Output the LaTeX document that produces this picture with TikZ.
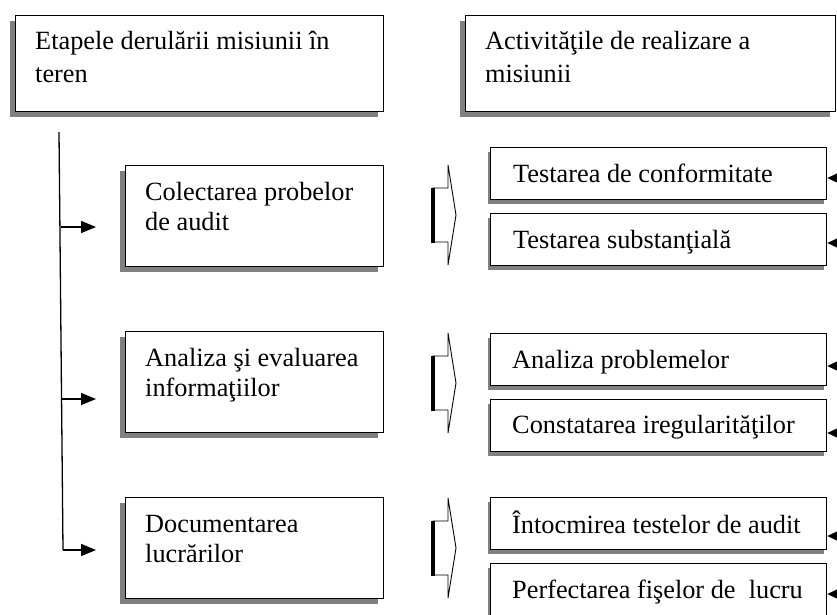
\documentclass[tikz,border=0pt]{standalone}
\usepackage{fontspec}
\setmainfont{Liberation Serif}
\usetikzlibrary{arrows.meta}
\definecolor{shadowgray}{RGB}{128,128,128}
\tikzset{
  bigbox/.style={draw, line width=1.3pt, fill=white, inner sep=0pt, anchor=north west,
    minimum width=#1,
    preaction={fill=shadowgray, draw=none, transform canvas={shift={(-6pt,-5pt)}}}},
  smallbox/.style={draw, line width=1.3pt, fill=white, inner sep=0pt, anchor=north west,
    minimum width=336pt, minimum height=52pt,
    preaction={fill=shadowgray, draw=none, transform canvas={shift={(-3pt,-4pt)}}}},
  txt/.style={inner sep=0pt, anchor=base west, align=left,
    font=\fontsize{26.3}{30}\selectfont},
  toptxt/.style={txt, font=\fontsize{26.3}{33}\selectfont},
  leftarrow/.style={line width=1.5pt, -{Triangle[length=15pt,width=12pt]}},
  rightarrow/.style={line width=1.2pt, -{Triangle[length=12pt,width=11pt]}},
  blockarrow/.style={line width=0.9pt, line join=miter},
}
\begin{document}
\begin{tikzpicture}[x=1pt,y=-1pt]
\useasboundingbox (0,0) rectangle (837,614);
% top boxes
\node[bigbox=368pt, minimum height=96pt] (T1) at (15,15) {};
\node[bigbox=370pt, minimum height=96pt] (T2) at (465,15) {};
\node[toptxt] (tT1) at (35,82) {Etapele derulării misiunii în\\teren};
\node[toptxt] (tT2) at (485,82) {Activităţile de realizare a\\misiunii};
% left boxes
\node[bigbox=258pt, minimum height=101pt] (L1) at (125,165) {};
\node[bigbox=258pt, minimum height=101pt] (L2) at (125,331) {};
\node[bigbox=258pt, minimum height=101pt] (L3) at (125,497) {};
\node[txt] (tL1) at (145,230) {Colectarea probelor\\de audit};
\node[txt] (tL2) at (145,396) {Analiza şi evaluarea\\informaţiilor};
\node[txt] (tL3) at (145,562) {Documentarea\\lucrărilor};
% right boxes
\node[smallbox] (R1) at (490,147) {};
\node[smallbox] (R2) at (490,213) {};
\node[smallbox] (R3) at (490,333) {};
\node[smallbox] (R4) at (490,399) {};
\node[smallbox] (R5) at (490,497) {};
\node[smallbox] (R6) at (490,563) {};
\node[txt] (tR1) at (513,182) {Testarea de conformitate};
\node[txt] (tR2) at (513,248) {Testarea substanţială};
\node[txt] (tR3) at (512,368) {Analiza problemelor};
\node[txt] (tR4) at (512,433) {Constatarea iregularităţilor};
\node[txt] (tR5) at (512,533) {Întocmirea testelor de audit};
\node[txt] (tR6) at (512,598) {Perfectarea fişelor de\ \ lucru};
% spine and left arrows
\coordinate (vtop) at (59,132);
\coordinate (vbot) at (63,550);
\draw[line width=1.3pt] (vtop) -- (vbot);
\coordinate (s1) at (60.5,227);
\coordinate (s2) at (61.6,399);
\coordinate (s3) at (63,550);
\coordinate (e1) at (96,227);
\coordinate (e2) at (96,399);
\coordinate (e3) at (96,550);
\draw[leftarrow] (s1) -- (e1);
\draw[leftarrow] (s2) -- (e2);
\draw[leftarrow] (s3) -- (e3);
% block arrows
\foreach \cy in {215,383,548}{
  \draw[blockarrow] (433,\cy-27) -- (448,\cy-27) -- (448,\cy-50) -- (456,\cy) -- (448,\cy+50) -- (448,\cy+27) -- (433,\cy+27) -- cycle;
  \draw[line width=4pt] (433,\cy-27.5) -- (433,\cy+27.5);
}
% right arrows
\foreach \n/\y in {1/178,2/243,3/366,4/433,5/536,6/594}{
  \coordinate (f\n) at (840,\y);
  \draw[rightarrow] (f\n) -- (f\n -| R\n.east);
}
\end{tikzpicture}
\end{document}
